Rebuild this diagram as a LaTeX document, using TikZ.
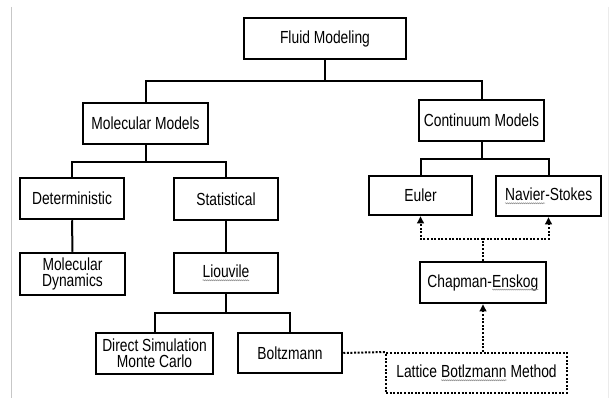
\documentclass[tikz,border=0pt]{standalone}
\usepackage{fontspec}
\setmainfont{Liberation Sans}[FakeStretch=0.79]
\usetikzlibrary{arrows.meta,decorations.pathmorphing}
\newcommand\nodefont{\fontsize{17.5}{15.8}\selectfont}
\newcommand\sq[1]{\tikz[baseline=0pt]{\node[draw=none,fill=none,inner sep=0pt,outer sep=0pt,minimum width=0pt,minimum height=0pt,anchor=base west,text=black,align=left] (sqw) at (0pt,0pt) {#1};\draw[black!45,line width=0.5pt,dash pattern=,decorate,decoration={snake,amplitude=0.55pt,segment length=2pt}] ([yshift=-2.6pt]sqw.base west) -- ([yshift=-2.6pt]sqw.base east);}}
\tikzset{
  box/.style={draw=black,line width=2.5pt,fill=white,inner sep=0pt,align=center,font=\nodefont,text=black},
  dbox/.style={draw=black,line width=2pt,dash pattern=on 2pt off 1.6pt,inner sep=0pt,align=center,font=\nodefont,text=black},
  conn/.style={draw=black,line width=2pt},
  dconn/.style={draw=black,line width=2pt,dash pattern=on 2pt off 1.6pt},
  tip/.style={-{Triangle[length=7pt,width=6.5pt]}}
}
\begin{document}
\begin{tikzpicture}[x=1pt,y=-1pt]
\useasboundingbox (0,0) rectangle (609,398);
\fill[white] (0,0) rectangle (609,398);
\draw[black!22,line width=1pt] (11.5,7) -- (11.5,398);
\draw[black!8,line width=1pt] (608,7) -- (608,398);
% boxes
\node[box,minimum width=162pt,minimum height=41pt] (FM) at (325,38.5) {Fluid Modeling};
\node[box,minimum width=125pt,minimum height=41pt] (MM) at (145.5,123.5) {Molecular Models};
\node[box,minimum width=125pt,minimum height=41pt] (CM) at (481.5,120.5) {Continuum Models};
\node[box,minimum width=104pt,minimum height=41pt] (Det) at (72,198.5) {Deterministic};
\node[box,minimum width=104pt,minimum height=42pt] (Stat) at (226,199) {Statistical};
\node[box,minimum width=103pt,minimum height=39pt] (Euler) at (420.5,195.5) {Euler};
\node[box,minimum width=105pt,minimum height=40pt] (NS) at (548.5,196) {\sq{Navier}-Stokes};
\node[box,minimum width=105pt,minimum height=42pt] (MD) at (72.5,274) {Molecular\\Dynamics};
\node[box,minimum width=104pt,minimum height=40pt] (Liou) at (226,273) {\sq{Liouvile}};
\node[box,minimum width=117pt,minimum height=41pt] (DSMC) at (154.5,353.5) {Direct Simulation\\Monte Carlo};
\node[box,minimum width=104pt,minimum height=40pt] (Boltz) at (290,353) {Boltzmann};
\node[box,minimum width=126pt,minimum height=41pt] (CE) at (483,282.5) {Chapman-\sq{Enskog}};
\node[dbox,minimum width=181pt,minimum height=40pt] (LBM) at (476.5,373) {Lattice \sq{Botlzmann} Method};
% junctions
\coordinate (j1) at (325,81);
\coordinate (j2) at (145.5,162);
\coordinate (j3) at (481.5,159);
\coordinate (j4) at (226,313);
\coordinate (j5) at (483,239);
% solid connectors
\draw[conn] (FM.south) -- (j1);
\draw[conn] (MM.north) |- (j1) -| (CM.north);
\draw[conn] (MM.south) -- (j2);
\draw[conn] (Det.north) |- (j2) -| (Stat.north);
\draw[conn] (CM.south) -- (j3);
\draw[conn] (Euler.north) |- (j3) -| (NS.north);
\draw[conn] (Det.south) -- (MD.north);
\draw[conn] (Stat.south) -- (Liou.north);
\draw[conn] (Liou.south) -- (j4);
\draw[conn] (DSMC.north) |- (j4) -| (Boltz.north);
% dotted connectors
\draw[dconn] (CE.north) -- (j5);
\draw[dconn,tip] (j5) -| (Euler.south);
\draw[dconn,tip] (j5) -| (NS.south);
\draw[dconn] (Boltz.east) -- (LBM.north west);
\draw[dconn,tip] (LBM.north -| CE.south) -- (CE.south);
\end{tikzpicture}
\end{document}
